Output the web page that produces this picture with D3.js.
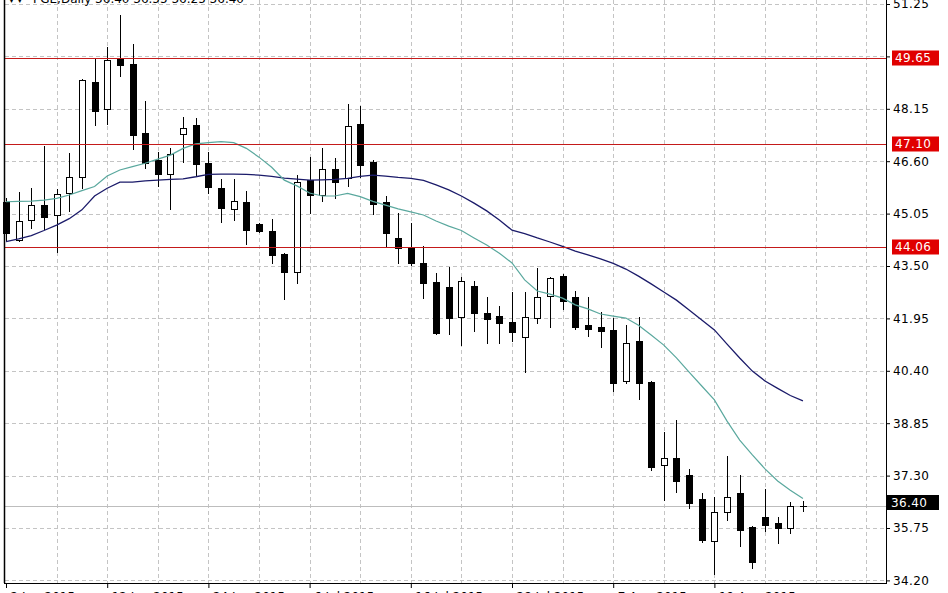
<!DOCTYPE html>
<html><head><meta charset="utf-8">
<script src="https://cdn.jsdelivr.net/npm/d3@7"></script>
<style>html,body{margin:0;padding:0;background:#fff;overflow:hidden}svg{display:block}</style>
</head><body>
<script>
const title = "PGE,Daily  36.40 36.55 36.25 36.40";
const open = [45.40,44.27,44.86,45.30,45.01,45.65,46.14,48.95,48.14,49.64,
49.47,47.44,46.64,46.22,47.40,47.67,46.56,45.82,45.19,45.40,
44.74,44.54,43.86,43.31,46.04,45.60,46.37,46.09,47.69,46.59,
45.40,44.32,44.02,43.58,43.02,42.87,42.00,42.91,42.12,42.02,
41.84,41.41,41.97,42.62,43.20,42.59,41.76,41.71,41.61,40.10,
41.28,40.08,37.61,37.81,37.32,36.61,35.37,36.21,36.79,35.77,
36.08,35.91,35.74,36.40];
const high = [45.51,45.68,45.82,47.05,45.77,46.85,49.02,49.66,49.97,50.92,
50.07,48.38,46.88,46.98,47.92,47.87,46.88,46.06,46.06,45.72,
44.77,44.88,43.88,46.19,46.72,46.98,46.70,48.29,48.23,46.64,
45.57,45.08,44.76,44.09,43.30,43.48,43.18,43.07,42.59,42.32,
42.74,42.74,43.43,43.18,43.26,42.76,42.59,42.15,41.95,41.76,
41.98,40.10,38.58,38.95,37.49,36.79,36.66,37.88,37.32,35.81,
36.90,36.08,36.53,36.55];
const low = [44.27,44.24,44.62,44.59,43.92,45.14,45.80,47.67,47.70,49.12,
46.95,46.41,45.88,45.18,46.59,46.19,45.65,44.81,44.86,44.15,
44.51,43.60,42.52,42.99,45.08,45.43,45.50,45.87,46.14,45.04,
44.05,43.60,43.53,42.56,41.49,41.49,41.16,41.59,41.21,41.21,
41.29,40.37,41.82,41.69,42.23,41.64,41.43,41.11,39.81,40.05,
39.57,37.47,36.58,36.81,36.35,35.33,34.39,35.99,35.22,34.58,
35.67,35.31,35.61,36.25];
const close = [44.47,44.83,45.30,44.96,45.63,46.14,49.00,48.09,49.59,49.45,
47.38,46.56,46.22,46.81,47.59,46.51,45.84,45.21,45.43,44.57,
44.54,43.83,43.31,45.99,45.60,46.37,45.99,47.64,46.49,45.33,
44.47,44.02,43.58,42.99,41.53,41.95,43.06,42.10,41.92,41.82,
41.54,41.98,42.59,43.14,42.47,41.71,41.63,41.59,40.05,41.23,
40.05,37.56,37.81,37.14,36.48,35.39,36.23,36.68,35.69,34.75,
35.84,35.74,36.40,36.40];
const maFast = [45.40,45.41,45.42,45.45,45.50,45.60,45.73,45.85,46.16,46.34,
46.44,46.54,46.66,46.78,46.98,47.11,47.15,47.18,47.15,46.98,
46.72,46.42,46.04,45.87,45.66,45.57,45.57,45.65,45.55,45.41,
45.30,45.19,45.10,45.01,44.83,44.68,44.55,44.33,44.12,43.88,
43.59,43.09,42.76,42.67,42.55,42.35,42.23,42.08,42.02,41.96,
41.75,41.46,41.16,40.78,40.36,39.95,39.54,38.91,38.35,37.91,
37.50,37.14,36.87,36.62];
const maSlow = [44.22,44.30,44.40,44.55,44.71,44.90,45.16,45.57,45.80,45.98,
45.98,46.02,46.04,46.06,46.08,46.14,46.21,46.22,46.22,46.21,
46.19,46.15,46.10,46.07,46.04,46.05,46.06,46.09,46.15,46.19,
46.16,46.12,46.09,46.03,45.90,45.75,45.57,45.36,45.13,44.86,
44.56,44.46,44.33,44.21,44.08,43.94,43.83,43.71,43.58,43.41,
43.20,42.97,42.73,42.49,42.20,41.90,41.61,41.19,40.78,40.39,
40.10,39.88,39.67,39.51];
const yTicks = [51.25,49.70,48.15,46.60,45.05,43.50,41.95,40.40,38.85,37.30,35.75,34.20];
const hiddenTicks = [49.70]; // covered by the 49.65 level label in the reference
const levels = [49.65,47.10,44.06];
const levelLabels = ["49.65","47.10","44.06"];
const bid = 36.40;
const bidLabel = "36.40";
const xTickIdx = [0,8,16,24,32,40,48,56];
const xTickLabels = ["2 Jun 2015","12 Jun 2015","24 Jun 2015","6 Jul 2015","16 Jul 2015","28 Jul 2015","7 Aug 2015","19 Aug 2015"];
const gridIdx = [4,8,12,16,20,24,28,32,36,40,44,48,52,56,60,64,68];

const W = 948, H = 593;
const L = 5, R = 886, B = 583;
const x = d3.scaleLinear().domain([0, 63]).range([6, 802.95]);
const y = d3.scaleLinear().domain([34.20, 51.25]).range([580.4, 4]);
const FONT = "'DejaVu Sans', Verdana, sans-serif";

const svg = d3.select("body").append("svg").attr("width", W).attr("height", H);
svg.append("rect").attr("width", W).attr("height", H).attr("fill", "#fff");

// grid
const grid = svg.append("g").attr("stroke", "#c4c4c4").attr("stroke-dasharray", "4,3").attr("shape-rendering", "crispEdges");
grid.selectAll("line.h").data(yTicks).join("line").attr("class","h")
  .attr("x1", L).attr("x2", R).attr("y1", d => Math.round(y(d)) + 0.5).attr("y2", d => Math.round(y(d)) + 0.5);
grid.selectAll("line.v").data(gridIdx).join("line").attr("class","v")
  .attr("x1", d => Math.round(x(d)) + 0.5).attr("x2", d => Math.round(x(d)) + 0.5).attr("y1", 0).attr("y2", B);

// bid line
svg.append("line").attr("x1", L).attr("x2", R)
  .attr("y1", Math.round(y(bid)) + 0.5).attr("y2", Math.round(y(bid)) + 0.5)
  .attr("stroke", "#bdbdbd").attr("shape-rendering", "crispEdges");

// candles
const idx = d3.range(open.length);
const cg = svg.append("g").attr("shape-rendering", "crispEdges");
cg.selectAll("line.wick").data(idx).join("line").attr("class","wick")
  .attr("x1", i => Math.round(x(i)) + 0.5).attr("x2", i => Math.round(x(i)) + 0.5)
  .attr("y1", i => Math.round(y(high[i]))).attr("y2", i => Math.round(y(low[i])) + 1)
  .attr("stroke", "#000");
const bodyTop = i => Math.round(y(Math.max(open[i], close[i])));
const bodyBot = i => Math.round(y(Math.min(open[i], close[i])));
const bodies = idx.filter(i => bodyBot(i) > bodyTop(i));
const dojis = idx.filter(i => bodyBot(i) <= bodyTop(i));
cg.selectAll("rect").data(bodies).join("rect")
  .attr("x", i => Math.round(x(i)) - 3 + 0.5)
  .attr("width", 6)
  .attr("y", i => bodyTop(i) + 0.5)
  .attr("height", i => bodyBot(i) - bodyTop(i))
  .attr("fill", i => close[i] < open[i] ? "#000" : "#fff")
  .attr("stroke", "#000");
cg.selectAll("line.doji").data(dojis).join("line").attr("class","doji")
  .attr("x1", i => Math.round(x(i)) - 3).attr("x2", i => Math.round(x(i)) + 4)
  .attr("y1", i => bodyTop(i) + 0.5).attr("y2", i => bodyTop(i) + 0.5)
  .attr("stroke", "#000");

// moving averages
const line = d3.line().x((d, i) => x(i)).y(d => y(d)).curve(d3.curveLinear);
svg.append("path").datum(maSlow).attr("d", line).attr("fill", "none").attr("stroke", "#1b1b6a").attr("stroke-width", 1.3);
svg.append("path").datum(maFast).attr("d", line).attr("fill", "none").attr("stroke", "#5aa89e").attr("stroke-width", 1.2);

// level lines
svg.selectAll("line.lvl").data(levels).join("line").attr("class","lvl")
  .attr("x1", L).attr("x2", R)
  .attr("y1", d => Math.round(y(d)) + 0.5).attr("y2", d => Math.round(y(d)) + 0.5)
  .attr("stroke", "#c41a1a").attr("shape-rendering", "crispEdges");

// borders
svg.append("line").attr("x1", L - 0.5).attr("x2", L - 0.5).attr("y1", 0).attr("y2", B).attr("stroke", "#000").attr("stroke-width", 1.5);
svg.append("line").attr("x1", R + 0.5).attr("x2", R + 0.5).attr("y1", 0).attr("y2", B + 0.5).attr("stroke", "#000").attr("shape-rendering", "crispEdges");
svg.append("line").attr("x1", L - 1).attr("x2", R + 1).attr("y1", B + 0.5).attr("y2", B + 0.5).attr("stroke", "#000").attr("shape-rendering", "crispEdges");

// right axis
const yAxis = d3.axisRight(y).tickValues(yTicks).tickSize(4).tickPadding(3)
  .tickFormat(d => hiddenTicks.includes(d) ? "" : d3.format(".2f")(d));
const ya = svg.append("g").attr("transform", `translate(${R},0)`).call(yAxis);
ya.select(".domain").remove();
ya.selectAll("text").attr("font-family", FONT).attr("font-size", 12).attr("letter-spacing", 0.4).attr("fill", "#000");
ya.selectAll("line").attr("stroke", "#000");

// bottom axis
const xAxis = d3.axisBottom(x).tickValues(xTickIdx).tickSize(5).tickFormat((d, i) => xTickLabels[i]);
const xa = svg.append("g").attr("transform", `translate(0,${B})`).call(xAxis);
xa.select(".domain").remove();
xa.selectAll("line").attr("stroke", "#000");
xa.selectAll("text").attr("font-family", FONT).attr("font-size", 12).attr("fill", "#000")
  .attr("text-anchor", "start").attr("x", 4).attr("dy", "0.9em").attr("y", 7);

// level labels
const lg = svg.append("g");
levels.forEach((v, k) => {
  const cy = Math.round(y(v));
  lg.append("rect").attr("x", 892).attr("y", cy - 7.5).attr("width", 47).attr("height", 15).attr("fill", "#e00000");
  lg.append("text").attr("x", 895).attr("y", cy).attr("dy", "0.36em").text(levelLabels[k])
    .attr("font-family", FONT).attr("font-size", 12).attr("letter-spacing", 0.4).attr("fill", "#fff");
});
const by = Math.round(y(bid));
lg.append("rect").attr("x", 887).attr("y", by - 11).attr("width", 52).attr("height", 15).attr("fill", "#000");
lg.append("text").attr("x", 891).attr("y", by - 3.5).attr("dy", "0.36em").text(bidLabel)
  .attr("font-family", FONT).attr("font-size", 12).attr("letter-spacing", 0.4).attr("fill", "#fff");

// title (cut at top)
svg.append("text").attr("x", 33).attr("y", 3).text(title)
  .attr("font-family", FONT).attr("font-size", 12).attr("fill", "#000");
svg.append("text").attr("x", 9).attr("y", 3).text("▾ ▾")
  .attr("font-family", FONT).attr("font-size", 10).attr("fill", "#000");
</script>
</body></html>
